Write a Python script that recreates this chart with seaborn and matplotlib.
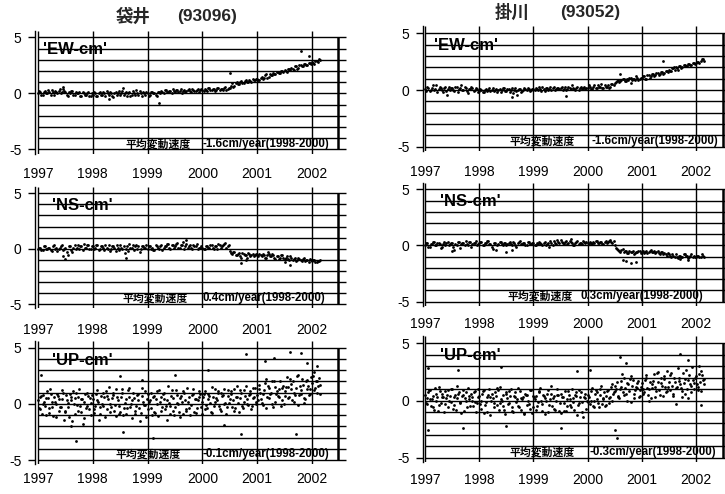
import numpy as np
import pandas as pd
import matplotlib
matplotlib.use("Agg")
import matplotlib.pyplot as plt
import seaborn as sns

sns.set_theme(style="white")
plt.rcParams["font.family"] = ["Liberation Sans", "Noto Sans CJK JP", "DejaVu Sans"]

# ---------------- data (cm), half-month samples from 1997.0 ----------------
years = [1997, 1998, 1999, 2000, 2001, 2002]
stations = ["袋井", "掛川"]
codes = ["(93096)", "(93052)"]
components = ["'EW-cm'", "'NS-cm'", "'UP-cm'"]
rate_label = "平均変動速度"
rates_left = ["-1.6cm/year(1998-2000)", "0.4cm/year(1998-2000)", "-0.1cm/year(1998-2000)"]
rates_right = ["-1.6cm/year(1998-2000)", "0.3cm/year(1998-2000)", "-0.3cm/year(1998-2000)"]

n_samples = 124
t = 1997 + np.arange(n_samples) / 24.0

ew_l = [
    0.0, 0.1, -0.1, 0.2, 0.0, 0.1, 0.3, -0.1, 0.1, 0.2, 0.0, 0.4,
    0.1, -0.2, 0.0, 0.2, -0.1, 0.0, 0.1, -0.2, 0.0, -0.1, 0.1, -0.2,
    -0.1, 0.0, -0.2, 0.1, -0.1, 0.0, 0.2, -0.1, 0.0, -0.3, 0.1, 0.0,
    -0.1, 0.2, 0.0, -0.2, 0.1, -0.1, 0.0, 0.3, -0.1, 0.0, 0.1, -0.1,
    0.0, -0.1, 0.1, 0.0, -0.2, 0.1, 0.2, 0.0, 0.3, 0.1, 0.2, 0.4,
    0.1, 0.3, 0.2, 0.0, 0.3, 0.2, 0.4, 0.1, 0.3, 0.2, 0.4, 0.3,
    0.3, 0.4, 0.2, 0.5, 0.3, 0.4, 0.3, 0.5, 0.4, 0.3, 0.6, 0.4,
    0.5, 0.9, 0.7, 1.0, 0.8, 1.1, 0.9, 1.2, 1.0, 1.1, 1.3, 1.2,
    1.3, 1.2, 1.5, 1.4, 1.7, 1.5, 1.6, 1.8, 1.7, 1.9, 1.8, 2.0,
    2.1, 1.9, 2.2, 2.3, 2.1, 2.4, 2.3, 2.5, 2.4, 2.6, 2.5, 2.7,
    2.8, 2.6, 2.9, 3.1]
ew_l_b = [
    0.2, -0.1, 0.1, 0.0, 0.3, -0.1, 0.1, 0.2, 0.0, 0.4, 0.1, 0.2,
    -0.1, 0.1, 0.2, -0.1, 0.1, 0.0, -0.2, 0.1, -0.1, 0.0, -0.2, 0.0,
    0.1, -0.2, 0.0, -0.1, 0.1, -0.2, 0.0, 0.1, -0.2, 0.0, -0.1, 0.2,
    0.0, -0.1, 0.1, 0.0, -0.2, 0.2, -0.1, 0.0, 0.2, -0.2, 0.0, 0.1,
    -0.2, 0.1, 0.0, -0.1, 0.1, 0.0, 0.1, 0.3, 0.1, 0.2, 0.0, 0.2,
    0.3, 0.1, 0.4, 0.2, 0.1, 0.3, 0.2, 0.4, 0.2, 0.3, 0.1, 0.4,
    0.2, 0.3, 0.5, 0.3, 0.4, 0.2, 0.5, 0.3, 0.4, 0.5, 0.3, 0.5,
    0.7, 0.6, 0.9, 0.8, 1.0, 0.9, 1.1, 1.0, 1.2, 1.0, 1.2, 1.3,
    1.2, 1.4, 1.3, 1.6, 1.4, 1.7, 1.6, 1.7, 1.9, 1.8, 2.0, 1.9,
    2.0, 2.2, 2.1, 2.2, 2.4, 2.2, 2.5, 2.4, 2.6, 2.5, 2.7, 2.6,
    2.7, 2.9, 2.8, 3.0]
ew_l_out_t = [1997.45, 1998.3, 1998.55, 1999.2, 2000.5, 2001.8, 2001.95]
ew_l_out_v = [0.6, -0.5, 0.5, -0.9, 1.8, 3.8, 3.3]

ns_l = [
    0.0, 0.1, -0.1, 0.2, 0.0, 0.1, -0.2, 0.3, 0.1, 0.0, 0.2, -0.1,
    0.1, -0.6, 0.2, -0.3, 0.3, 0.1, 0.0, 0.2, 0.4, 0.1, 0.3, 0.0,
    0.2, 0.1, 0.3, 0.0, 0.2, -0.1, 0.1, 0.3, 0.0, 0.2, -0.2, 0.1,
    0.3, 0.0, -0.4, 0.2, 0.4, 0.1, -0.1, 0.3, 0.2, 0.0, 0.2, 0.1,
    0.0, 0.2, 0.1, -0.1, 0.2, 0.0, 0.3, 0.1, 0.2, 0.4, 0.0, 0.3,
    0.2, 0.5, 0.1, 0.3, 0.0, 0.4, 0.2, 0.1, 0.3, 0.2, 0.0, 0.1,
    0.1, 0.0, 0.2, 0.1, 0.3, 0.0, 0.2, 0.4, 0.1, 0.3, 0.5, 0.2,
    -0.2, -0.5, -0.3, -0.6, -0.4, -0.8, -0.5, -0.6, -0.4, -0.7, -0.5, -0.6,
    -0.6, -0.5, -0.7, -0.6, -0.8, -0.5, -0.7, -0.6, -0.9, -0.7, -0.8, -0.6,
    -0.9, -0.7, -1.0, -0.8, -0.9, -1.1, -0.8, -1.0, -0.9, -1.1, -1.0, -0.9,
    -1.1, -1.0, -1.2, -1.1]
ns_l_b = [
    0.1, -0.1, 0.2, 0.0, 0.1, -0.1, 0.2, 0.0, -0.2, 0.1, 0.3, 0.0,
    -0.3, 0.2, -0.1, 0.1, 0.0, 0.3, 0.2, -0.1, 0.1, 0.3, 0.0, 0.2,
    0.0, 0.3, -0.1, 0.2, 0.1, 0.3, 0.0, -0.2, 0.2, 0.1, 0.3, -0.1,
    0.1, 0.2, 0.0, -0.2, 0.1, 0.3, 0.2, 0.0, -0.3, 0.2, 0.1, 0.3,
    0.2, 0.0, -0.1, 0.3, 0.1, 0.2, -0.1, 0.2, 0.4, 0.1, 0.3, 0.1,
    0.4, 0.1, 0.3, 0.6, 0.2, 0.1, 0.3, 0.0, 0.2, 0.4, 0.1, 0.2,
    0.0, 0.2, 0.1, 0.3, 0.1, 0.2, 0.0, 0.3, 0.2, 0.4, 0.1, 0.3,
    -0.4, -0.3, -0.6, -0.5, -0.7, -0.4, -0.6, -0.8, -0.5, -0.6, -0.7, -0.5,
    -0.7, -0.6, -0.5, -0.8, -0.6, -0.7, -0.5, -0.8, -0.7, -0.9, -0.6, -0.8,
    -0.8, -0.9, -0.7, -1.0, -0.8, -1.0, -0.9, -1.1, -0.8, -1.0, -1.2, -1.0,
    -1.0, -1.2, -1.1, -1.0]
ns_l_out_t = [1997.5, 1997.45, 1998.6, 1999.7, 2000.7, 2000.8, 2001.6, 2001.5, 2001.2]
ns_l_out_v = [-0.9, -0.7, -0.8, 0.8, -1.3, -1.0, -1.5, -1.2, -0.3]

up_l_a = [
    0.3, -0.5, 0.8, -0.2, 1.1, -0.8, 0.2, 0.6, -1.2, 0.4, -0.3, 1.0,
    -0.6, 0.1, 0.9, -1.5, 0.5, -0.1, 1.3, -0.7, 0.2, -0.4, 0.7, -1.0,
    0.4, -0.2, 1.2, -0.9, 0.0, 0.6, -0.5, 1.5, -0.3, 0.8, -1.1, 0.3,
    -0.7, 1.0, 0.1, -0.4, 1.4, -1.3, 0.5, -0.2, 0.9, -0.8, 0.2, 1.1,
    -0.5, 0.3, -1.0, 0.7, 0.0, 1.2, -0.6, 0.4, -0.2, 1.6, -0.9, 0.5,
    -0.3, 0.8, -1.2, 0.2, 1.0, -0.5, 0.6, -0.1, 1.3, -0.8, 0.3, 0.9,
    0.2, 1.1, -0.4, 0.7, 1.5, -0.2, 0.5, 1.0, -0.6, 0.8, 0.1, 1.2,
    0.4, -0.3, 1.3, 0.6, -0.7, 1.0, 0.2, 1.6, -0.1, 0.9, 0.5, 1.4,
    0.8, 1.7, 0.1, 1.2, 2.2, 0.5, 1.0, -0.3, 1.5, 0.7, 2.0, 0.3,
    1.1, 2.4, 0.6, 1.8, 0.2, 1.4, 2.6, 0.9, 1.7, 0.4, 2.1, 1.3,
    1.9, 2.8, 1.0, 2.3]
up_l_b = [
    -0.4, 0.7, 0.0, -1.0, 0.5, 1.3, -0.3, 0.2, 0.9, -0.6, 0.4, -1.4,
    0.8, -0.3, 0.3, 1.1, -0.9, 0.6, -0.2, 0.4, -1.3, 1.0, -0.5, 0.1,
    -0.8, 0.9, 0.2, -0.3, 1.0, -1.2, 0.7, 0.0, 0.5, -0.6, 1.3, -0.2,
    0.6, -1.0, 0.4, 1.2, -0.3, 0.3, -0.9, 0.8, -0.4, 1.4, -0.1, -1.2,
    0.9, -0.4, 0.6, -0.8, 1.1, 0.2, -0.3, 1.0, -1.4, 0.1, 0.7, -0.6,
    1.2, 0.0, 0.5, -0.9, 0.3, 1.4, -0.4, 0.8, -0.7, 0.4, 1.1, -0.3,
    0.6, -0.5, 0.9, 0.1, -0.8, 1.3, 0.3, -0.2, 1.0, 0.0, -0.9, 0.7,
    1.1, 0.3, -0.4, 1.6, 0.5, -0.2, 1.2, 0.0, 0.8, -0.5, 1.4, 0.2,
    0.3, 1.0, -0.1, 1.9, 0.6, 1.4, 0.0, 2.0, 0.9, 1.3, -0.2, 1.6,
    0.7, 1.5, 2.2, 0.3, 1.0, 2.5, 0.8, 1.2, 0.1, 2.0, 1.6, 0.9,
    2.5, 1.4, 2.0, 1.7]
up_l_c = [
    0.6, -0.9, 0.2, 0.5, -0.4, 0.9, -1.1, 0.0, 0.7, -0.3, 1.2, -0.7,
    0.3, -1.2, 0.6, 0.0, 1.0, -0.6, 0.4, -1.8, 0.9, -0.2, 0.5, 0.8,
    -0.5, 0.3, -1.4, 0.7, -0.2, 1.1, 0.4, -0.7, 1.0, -0.1, 0.6, -0.9,
    1.3, -0.4, -0.9, 0.6, 0.0, 1.0, -0.6, 0.3, -1.5, 0.7, -0.1, 0.4,
    0.2, 1.0, -0.7, 0.4, -1.1, 0.6, 0.9, -0.5, 0.3, -0.2, 1.2, -1.0,
    0.1, -0.7, 0.7, 1.1, -0.6, 0.2, -1.0, 0.9, 0.4, -0.4, 0.6, -0.9,
    0.9, -0.1, 0.4, -0.7, 0.6, 0.2, 1.1, -0.5, 0.7, 1.3, -0.3, 0.1,
    0.9, -0.6, 0.6, 0.1, 1.2, -0.4, 0.7, 0.4, 1.1, -0.2, 0.6, 0.0,
    1.3, 0.4, 0.9, -0.4, 1.6, 0.9, 2.0, 0.2, 1.1, 0.6, 1.4, 0.0,
    1.5, 0.5, 1.3, 2.0, 0.8, -0.1, 1.6, 2.2, 0.5, 1.3, 0.8, 2.4,
    1.2, 2.0, 1.6, 0.9]
up_l_out_t = [1997.05, 1997.7, 1997.6, 1998.5, 1998.55, 1999.1, 1999.5, 2000.1,
              2000.7, 2000.8, 2001.15, 2001.3, 2001.6, 2001.8, 2001.7, 2001.9,
              2002.1, 1998.9, 2000.4]
up_l_out_v = [2.6, -3.3, -2.0, 2.5, -2.5, -3.0, 2.6, 3.0,
              -2.7, 4.4, 3.8, 4.1, 4.6, 4.5, -2.7, 3.6,
              3.4, 2.1, -1.9]

ew_r = [
    0.1, 0.3, -0.1, 0.2, 0.0, 0.4, 0.1, 0.2, -0.2, 0.3, 0.1, 0.0,
    0.2, -0.1, 0.3, 0.1, 0.4, 0.0, 0.2, -0.3, 0.1, 0.2, 0.0, 0.1,
    -0.1, 0.0, -0.2, 0.1, 0.0, -0.1, 0.2, 0.0, -0.2, 0.1, 0.0, 0.2,
    -0.1, 0.1, 0.0, -0.3, 0.2, 0.0, 0.1, -0.1, 0.2, 0.0, 0.1, 0.0,
    0.1, 0.2, 0.0, 0.1, 0.3, -0.1, 0.2, 0.1, 0.0, 0.3, 0.1, 0.2,
    0.2, 0.0, 0.3, 0.1, 0.2, 0.4, 0.1, 0.2, 0.0, 0.3, 0.2, 0.1,
    0.2, 0.3, 0.1, 0.4, 0.2, 0.3, 0.5, 0.2, 0.3, 0.4, 0.3, 0.5,
    0.6, 0.8, 0.7, 0.9, 1.0, 0.8, 0.9, 1.1, 1.0, 0.9, 1.1, 1.0,
    1.1, 1.2, 1.0, 1.3, 1.2, 1.4, 1.3, 1.5, 1.4, 1.6, 1.5, 1.7,
    1.8, 1.7, 1.9, 2.0, 1.8, 2.1, 2.0, 2.2, 2.1, 2.3, 2.2, 2.4,
    2.4, 2.5, 2.6, 2.7]
ew_r_b = [
    -0.1, 0.2, 0.0, 0.4, 0.1, -0.2, 0.3, 0.0, 0.2, -0.1, 0.3, 0.2,
    0.0, 0.3, -0.2, 0.2, 0.0, 0.3, -0.1, 0.1, 0.3, -0.1, 0.2, -0.2,
    0.1, -0.2, 0.0, -0.1, 0.2, 0.0, -0.1, 0.1, 0.0, -0.2, 0.2, -0.1,
    0.1, -0.2, 0.2, 0.0, -0.1, 0.1, -0.2, 0.0, 0.1, 0.2, -0.1, 0.1,
    0.0, 0.1, 0.3, -0.1, 0.1, 0.2, 0.0, 0.3, 0.2, 0.0, 0.2, 0.1,
    0.3, 0.1, 0.0, 0.3, 0.1, 0.2, 0.0, 0.3, 0.2, 0.1, 0.3, 0.2,
    0.4, 0.1, 0.3, 0.2, 0.4, 0.3, 0.2, 0.4, 0.3, 0.2, 0.5, 0.4,
    0.7, 0.9, 0.8, 1.0, 0.8, 1.0, 1.1, 0.9, 1.0, 1.2, 0.9, 1.1,
    1.2, 1.0, 1.3, 1.1, 1.4, 1.2, 1.5, 1.3, 1.6, 1.4, 1.7, 1.6,
    1.7, 1.9, 1.8, 1.9, 2.1, 1.9, 2.2, 2.1, 2.3, 2.2, 2.4, 2.3,
    2.5, 2.4, 2.7, 2.6]
ew_r_out_t = [1997.4, 1998.6, 1998.7, 1999.6, 2000.6, 2001.4, 2001.6, 2000.8]
ew_r_out_v = [-0.4, -0.6, -0.4, -0.5, 1.4, 2.6, 2.0, 0.6]

ns_r = [
    0.0, 0.2, -0.1, 0.1, 0.3, 0.0, 0.2, -0.2, 0.1, 0.0, 0.3, 0.1,
    0.2, -0.4, 0.0, 0.3, 0.1, 0.2, 0.4, 0.0, 0.3, 0.1, 0.2, 0.0,
    0.2, 0.3, 0.0, 0.2, 0.4, 0.1, -0.3, 0.2, 0.0, 0.3, 0.1, 0.2,
    0.0, 0.2, 0.1, 0.3, 0.0, 0.2, 0.4, 0.1, 0.2, 0.0, 0.3, 0.1,
    0.2, 0.0, 0.1, 0.2, 0.0, 0.3, 0.1, -0.1, 0.2, 0.4, 0.1, 0.3,
    0.5, 0.2, 0.3, 0.1, 0.4, 0.2, 0.0, 0.3, 0.1, 0.2, 0.4, 0.2,
    0.2, 0.3, 0.1, 0.2, 0.4, 0.2, 0.3, 0.1, 0.4, 0.3, 0.5, 0.2,
    0.0, -0.3, -0.5, -0.4, -0.6, -0.5, -0.7, -0.6, -0.5, -0.7, -0.6, -0.5,
    -0.6, -0.7, -0.5, -0.6, -0.4, -0.6, -0.7, -0.5, -0.8, -0.6, -0.7, -0.9,
    -0.8, -1.0, -0.9, -0.8, -1.1, -0.9, -1.0, -0.8, -0.9, -1.0, -0.8, -0.9,
    -1.0, -0.9, -1.0, -0.9]
ns_r_b = [
    0.2, -0.1, 0.1, 0.3, 0.0, 0.2, 0.1, -0.1, 0.3, 0.2, 0.0, 0.2,
    -0.1, 0.1, 0.3, -0.2, 0.2, 0.0, 0.1, 0.3, -0.1, 0.2, 0.4, 0.1,
    0.3, 0.0, 0.2, 0.4, 0.1, -0.1, 0.2, -0.4, 0.1, 0.3, 0.0, 0.2,
    0.1, 0.3, 0.0, 0.2, -0.1, 0.3, 0.1, 0.2, 0.0, 0.3, 0.1, 0.2,
    0.0, 0.2, 0.3, 0.1, 0.2, 0.0, 0.2, 0.4, 0.0, 0.2, 0.5, 0.2,
    0.3, 0.1, 0.4, 0.2, 0.3, 0.0, 0.2, 0.4, 0.2, 0.1, 0.3, 0.3,
    0.1, 0.2, 0.3, 0.4, 0.2, 0.3, 0.1, 0.3, 0.2, 0.4, 0.3, 0.4,
    -0.2, -0.4, -0.6, -0.3, -0.5, -0.7, -0.5, -0.6, -0.8, -0.6, -0.5, -0.7,
    -0.5, -0.6, -0.7, -0.5, -0.6, -0.5, -0.6, -0.7, -0.6, -0.8, -0.8, -0.7,
    -0.9, -0.8, -1.0, -1.0, -0.9, -1.0, -0.8, -0.9, -1.1, -0.9, -1.0, -1.0,
    -0.9, -1.0, -0.8, -1.0]
ns_r_out_t = [1997.5, 1998.5, 1998.6, 2000.65, 2000.7, 2000.8, 2001.7, 2001.85, 1999.7, 2000.9]
ns_r_out_v = [-0.5, -0.6, -0.4, -1.3, -1.4, -1.6, -1.2, -1.3, 0.6, -1.5]

up_r_a = [
    0.5, -0.3, 0.9, 0.1, -0.8, 0.6, 1.2, -0.2, 0.3, 0.8, -0.6, 0.4,
    1.0, -0.4, 0.2, 0.7, -1.1, 0.5, 0.0, 1.1, -0.5, 0.3, 0.8, -0.2,
    0.4, -0.7, 0.9, -0.1, 0.5, -1.3, 0.2, 0.7, -0.4, 1.2, 0.0, -0.8,
    0.6, -0.2, 1.0, -1.0, 0.3, -0.5, 0.8, 0.1, -1.2, 0.5, -0.3, 0.9,
    -0.6, 0.4, -0.1, 1.1, -0.9, 0.2, 0.6, -0.4, 1.3, -0.7, 0.0, 0.5,
    -1.1, 0.3, 0.8, -0.5, 0.1, 1.0, -0.8, 0.4, -0.2, 0.7, -1.4, 0.2,
    0.5, -0.3, 1.1, 0.0, 0.7, -0.6, 1.3, 0.2, -0.4, 0.9, 0.3, 1.4,
    0.8, 1.6, 0.2, 1.2, 2.0, 0.6, 1.4, -0.1, 1.8, 0.9, 1.1, 0.4,
    1.5, 0.7, 2.2, 1.0, 0.2, 1.7, 1.2, 2.5, 0.5, 1.3, 1.9, 0.8,
    1.6, 2.4, 0.6, 1.1, 2.8, 1.4, 0.3, 1.9, 1.0, 2.2, 0.7, 1.5,
    2.1, 1.2, 2.6, 1.8]
up_r_b = [
    -0.2, 0.7, 0.1, -0.6, 1.1, 0.3, -0.4, 0.6, -1.0, 0.2, 0.9, -0.1,
    -0.7, 0.5, 1.3, -0.2, 0.4, -0.9, 0.7, 0.1, 0.6, -0.5, -0.1, 1.0,
    -0.3, 0.6, -1.1, 0.3, 1.0, 0.0, -0.6, 0.4, 0.9, -0.2, 0.5, -1.2,
    0.2, 0.8, -0.6, 0.4, -0.1, 1.1, -0.8, 0.3, 0.6, -0.4, 0.9, -1.1,
    0.3, -0.8, 0.7, 0.0, 0.5, -1.2, 0.9, 0.1, -0.5, 0.4, 1.0, -0.9,
    0.6, -0.2, -0.9, 0.8, -0.4, 0.2, 0.5, -1.3, 0.9, -0.1, 0.3, -0.7,
    -0.1, 0.8, -0.5, 0.6, 0.1, 1.0, -0.3, 0.7, 0.4, -0.2, 1.2, 0.6,
    1.3, 0.3, 1.0, 2.3, 0.5, 1.5, 0.8, 2.1, 0.2, 1.2, 1.7, 0.9,
    0.6, 1.8, 1.1, 0.0, 1.4, 2.3, 0.8, 1.6, 2.0, 0.4, 1.2, 2.6,
    0.9, 1.3, 2.0, -0.3, 1.7, 1.1, 2.4, 0.6, 1.8, 1.4, 2.9, 1.0,
    1.4, 2.3, 0.8, 1.9]
up_r_c = [
    0.2, 0.9, -0.5, 0.4, 0.0, -0.9, 0.8, 0.3, -0.3, 0.5, 0.0, 1.0,
    0.3, -0.8, 0.6, -0.1, 0.9, 0.2, -0.6, 0.4, 0.0, 0.7, -1.0, 0.3,
    0.0, 0.8, -0.4, -1.0, 0.3, 0.6, -0.2, 1.1, -0.8, 0.1, -0.5, 0.7,
    -0.3, 0.4, -0.9, 0.7, 0.1, -0.6, 0.2, -1.1, 0.5, 0.0, -0.7, 0.4,
    0.1, -0.5, 0.8, -0.3, 0.4, 0.0, -1.0, 0.6, 0.2, -0.8, 0.5, -0.2,
    0.3, -0.9, 0.1, 0.5, -0.6, -0.1, 0.7, -0.4, 0.3, -1.0, 0.6, 0.0,
    0.3, 0.0, -0.6, 0.9, -0.2, 0.5, 0.1, -0.5, 0.8, 0.2, 0.0, 0.7,
    1.0, 0.4, 1.7, 0.7, 1.1, 0.0, 1.9, 1.3, 0.6, 1.5, 0.3, 1.2,
    1.0, 2.0, 0.5, 1.6, 1.1, 0.3, 2.4, 0.9, 1.5, 2.1, 0.7, 1.2,
    2.2, 0.4, 1.6, 1.2, 2.0, 0.8, 1.5, 2.7, 0.2, 1.3, 1.8, 2.0,
    0.9, 1.6, 2.2, 1.4]
up_r_out_t = [1997.05, 1997.05, 1997.6, 1997.7, 1998.4, 1998.5, 1999.8, 2000.05,
              2000.5, 2000.55, 2000.6, 2000.7, 2001.7, 2001.85, 2002.05, 2002.1, 1999.5]
up_r_out_v = [2.8, -2.6, 2.7, -2.4, 2.9, -2.2, 2.6, 2.7,
              -2.6, -3.3, 3.8, 3.3, 4.1, 3.5, 3.0, -0.4, -2.4]

# ---------------- figure layout ----------------
W, H = 725, 494
fig = plt.figure(figsize=(W / 100, H / 100), dpi=100)
fig.patch.set_facecolor("white")
YTOP, YBOT = 5.6, -5.4
LW = 1.0

cols = [
    dict(x1997=38.0, ppy=54.8, xlim=(1996.95, 2002.65), border=2002.47, hend=2002.62),
    dict(x1997=425.0, ppy=54.2, xlim=(1996.97, 2002.53), border=2002.49, hend=2002.53),
]
# (y px of +5 line, y px of -5 line, x label centre px)
rows = [
    [(37.3, 149.5, 172), (193.3, 304.0, 328), (347.7, 460.0, 477)],
    [(33.3, 146.7, 170), (189.3, 301.7, 323), (343.3, 457.7, 478)],
]
label_x = [[1997.1, 1997.25, 1997.25], [1997.17, 1997.28, 1997.28]]
jp_x = [[1998.59, 1998.55, 1998.42], [1998.55, 1998.53, 1998.55]]
val_x = [[2000.0, 2000.0, 2000.0], [2000.08, 1999.86, 2000.03]]

series = [
    [([ew_l, ew_l_b], ew_l_out_t, ew_l_out_v), ([ns_l, ns_l_b], ns_l_out_t, ns_l_out_v),
     ([up_l_a, up_l_b, up_l_c], up_l_out_t, up_l_out_v)],
    [([ew_r, ew_r_b], ew_r_out_t, ew_r_out_v), ([ns_r, ns_r_b], ns_r_out_t, ns_r_out_v),
     ([up_r_a, up_r_b, up_r_c], up_r_out_t, up_r_out_v)],
]
rates = [rates_left, rates_right]

for c, col in enumerate(cols):
    for r in range(3):
        y5, ym5, lab_c = rows[c][r]
        ppc = (ym5 - y5) / 10.0
        top = y5 - (YTOP - 5) * ppc
        bot = ym5 + (-5 - YBOT) * ppc
        left = col["x1997"] + (col["xlim"][0] - 1997) * col["ppy"]
        right = col["x1997"] + (col["xlim"][1] - 1997) * col["ppy"]
        ax = fig.add_axes([left / W, 1 - bot / H, (right - left) / W, (bot - top) / H])
        ax.set_facecolor("white")
        ax.set_xlim(*col["xlim"])
        ax.set_ylim(YBOT, YTOP)

        # grid
        ax.hlines(np.arange(-5, 6), 1997, col["hend"], color="black", lw=LW, zorder=1)
        ax.vlines(years, YBOT, YTOP, color="black", lw=LW, zorder=1)
        ax.vlines(col["border"], -5, 5, color="black", lw=1.8, zorder=1)

        sets, ot, ov = series[c][r]
        k = len(sets)
        for j, vals in enumerate(sets):
            sns.scatterplot(x=t + j / (24.0 * k), y=vals, ax=ax, color="black", s=4,
                            linewidth=0, zorder=3)
        sns.scatterplot(x=ot, y=ov, ax=ax, color="black", s=4, linewidth=0, zorder=3)

        for sp in ["top", "right", "bottom"]:
            ax.spines[sp].set_visible(False)
        ax.spines["left"].set_color("black")
        ax.spines["left"].set_linewidth(LW)

        ax.set_yticks([-5, 0, 5])
        ax.set_yticklabels(["-5", "0", "5"])
        ax.set_xticks(years)
        ax.set_xticklabels([str(y) for y in years])
        ax.tick_params(axis="y", length=5, width=LW, pad=5, labelsize=10, colors="black", left=True)
        pad_px = lab_c - bot - 5.5
        ax.tick_params(axis="x", length=0, pad=pad_px * 0.72, labelsize=10, colors="black", bottom=True)
        ax.set_xlabel("")
        ax.set_ylabel("")
        ax.grid(False)

        ax.text(label_x[c][r], 3.9, components[r], fontsize=12, fontweight="bold",
                va="center", ha="left", color="black", zorder=4)
        ax.text(jp_x[c][r], -4.5, rate_label, fontsize=7.8, fontweight="bold",
                family=["Noto Sans CJK JP"], va="center", ha="left", color="black", zorder=4)
        ax.text(val_x[c][r], -4.5, rates[c][r], fontsize=8.3, fontweight="bold",
                va="center", ha="left", color="black", zorder=4)

# column titles
fig.text(133 / W, 1 - 17 / H, stations[0], fontsize=12.5, fontweight="bold",
         family=["Noto Sans CJK JP"], ha="center", va="center")
fig.text(207 / W, 1 - 17 / H, codes[0], fontsize=12.5, fontweight="bold", ha="center", va="center")
fig.text(512 / W, 1 - 13 / H, stations[1], fontsize=12.5, fontweight="bold",
         family=["Noto Sans CJK JP"], ha="center", va="center")
fig.text(590 / W, 1 - 13 / H, codes[1], fontsize=12.5, fontweight="bold", ha="center", va="center")

fig.savefig("out.png", dpi=100, facecolor="white")
